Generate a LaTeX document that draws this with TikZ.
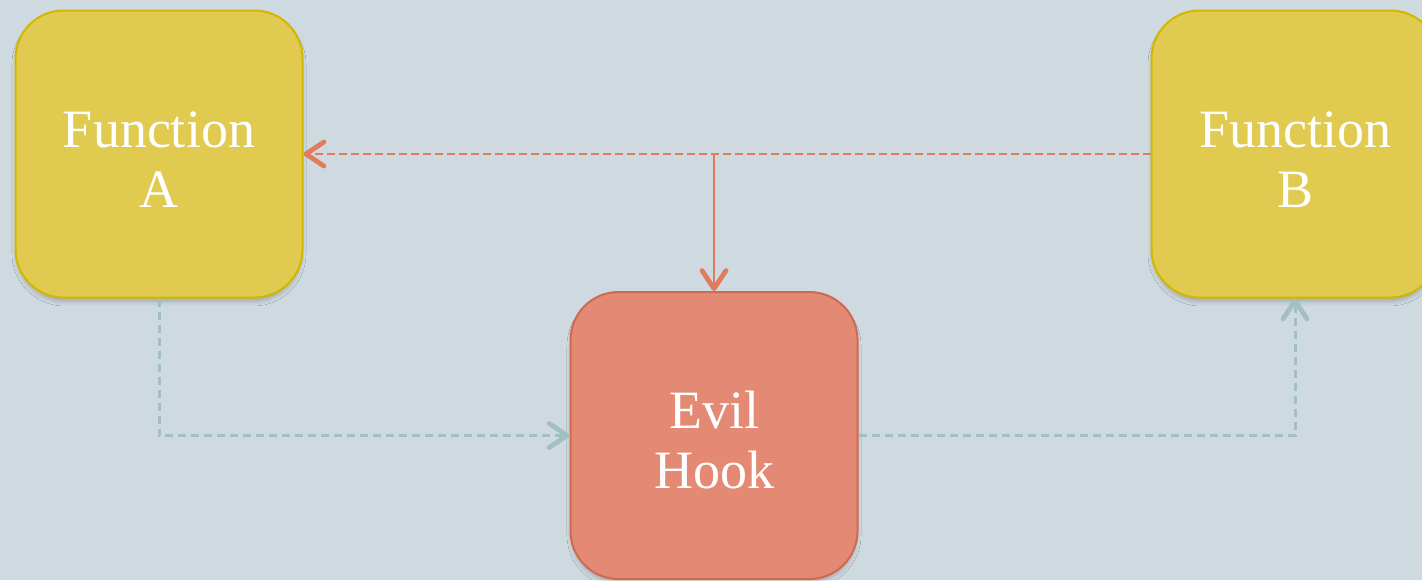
\documentclass[tikz,border=0pt]{standalone}
\usepackage{fontspec}
\setmainfont{Liberation Serif}
\usetikzlibrary{arrows.meta,shadows.blur}

\definecolor{bgcol}{HTML}{CFDAE0}
\definecolor{funcfill}{HTML}{E0CA50}
\definecolor{funcedge}{HTML}{D2B700}
\definecolor{hookfill}{HTML}{E48A74}
\definecolor{hookedge}{HTML}{CF6A50}
\definecolor{callcol}{HTML}{E07B5E}
\definecolor{flowcol}{HTML}{A2C0C2}

% raises the first line a little so the label sits slightly low in its box
\newcommand{\toppad}{\rule{0pt}{23.5pt}}

\tikzset{
  box/.style={rounded corners=24pt, minimum width=143.5pt, minimum height=143.5pt,
    line width=1pt, text=white, align=center, inner sep=0pt,
    font=\fontsize{27}{30}\selectfont,
    blur shadow={shadow xshift=0pt, shadow yshift=-2.5pt, shadow blur radius=2.5pt, shadow opacity=25, shadow scale=0.99}},
  funcbox/.style={box, fill=funcfill, draw=funcedge},
  hookbox/.style={box, fill=hookfill, draw=hookedge},
  tip/.style={-{Straight Barb[length=9pt, width=12pt, line width=2.4pt, line cap=round, line join=round]}},
  callline/.style={draw=callcol, line width=1.3pt, dash pattern=on 4pt off 2pt},
  callsolid/.style={draw=callcol, line width=1.4pt},
  flowline/.style={draw=flowcol, line width=1.5pt, dash pattern=on 4pt off 2.5pt},
}

\begin{document}
\begin{tikzpicture}[x=0.5pt, y=-0.5pt]
  % canvas
  \fill[bgcol] (0,0) rectangle (1422,580);
  \useasboundingbox (0,0) rectangle (1422,580);
  \clip (0,0) rectangle (1422,580);

  % boxes
  \node[funcbox] (fa) at (159,154) {\toppad Function\\A};
  \node[funcbox] (fb) at (1295,154) {\toppad Function\\B};
  \node[hookbox] (hook) at (714,435.5) {\toppad Evil\\Hook};

  % call redirected through the hook
  \draw[callline, tip] (fb.west) -- (fa.east);
  \draw[callsolid, tip] (hook.north |- fa.east) -- (hook.north);

  % control flow A -> hook -> B
  \draw[flowline, tip] (fa.south) |- (hook.west);
  \draw[flowline, tip] (hook.east) -| (fb.south);
\end{tikzpicture}
\end{document}
